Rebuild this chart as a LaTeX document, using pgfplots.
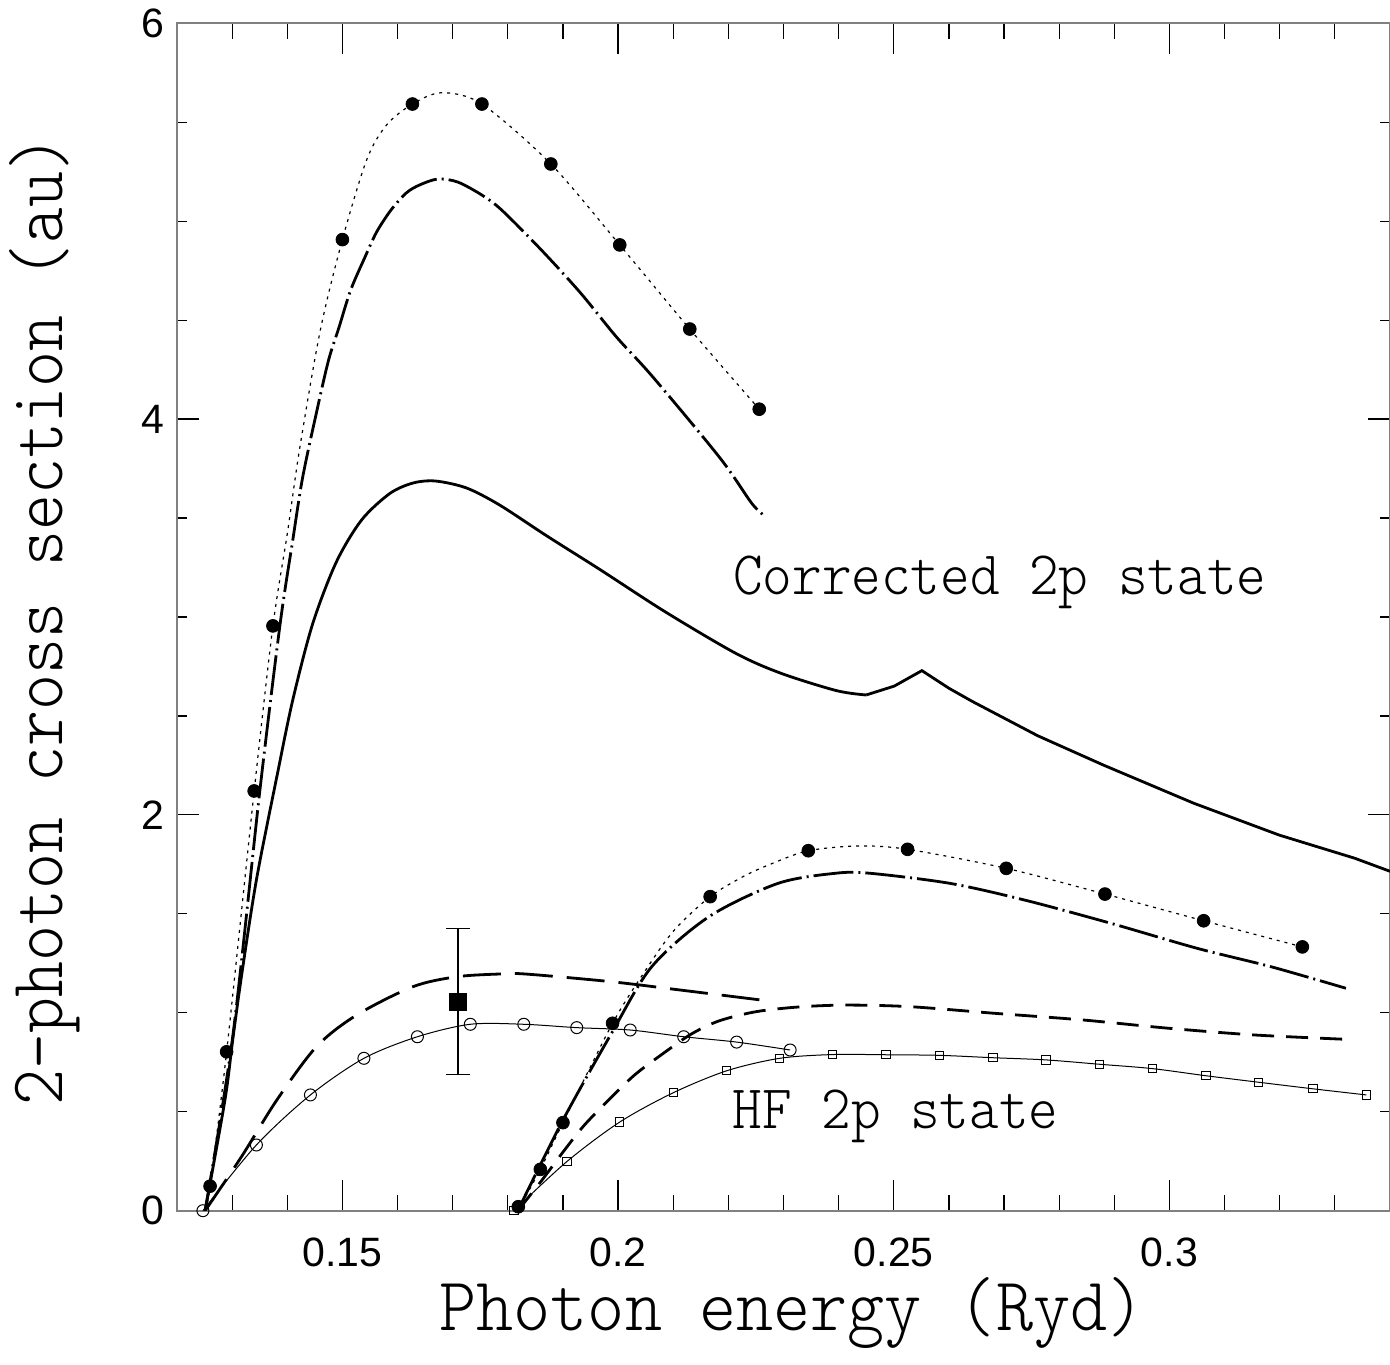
\documentclass[border=0pt]{standalone}
\usepackage{fontspec}
\usepackage{graphicx}
\usepackage{pgfplots}
\pgfplotsset{compat=1.18}
\newfontfamily\helv{Liberation Sans}
\newfontfamily\lmlt{lmmonolt10-regular}[Extension=.otf]
\newcommand{\lab}{\lmlt\fontsize{38bp}{40bp}\selectfont}
\newcommand{\txt}{\lmlt\fontsize{31bp}{33bp}\selectfont}

\begin{document}
\begin{tikzpicture}
\begin{axis}[
  at={(0,0)}, anchor=south west,
  scale only axis, width=606.5bp, height=593.7bp,
  xmin=0.12, xmax=0.34, ymin=0, ymax=6,
  xtick={0.15,0.2,0.25,0.3}, xticklabels={0.15,0.2,0.25,0.3},
  minor xtick={0.13,0.14,0.16,0.17,0.18,0.19,0.21,0.22,0.23,0.24,0.26,0.27,0.28,0.29,0.31,0.32,0.33},
  ytick={0,2,4,6}, yticklabels={0,2,4,6},
  minor ytick={0.5,1,1.5,2.5,3,3.5,4.5,5,5.5},
  tick align=inside, tick pos=both,
  major tick length=11bp, minor tick length=5.25bp,
  x tick style={/pgfplots/major tick length=15.5bp,/pgfplots/minor tick length=7.75bp},
  tick style={black, line width=0.6bp},
  axis line style={black!50, line width=1bp},
  tick label style={font=\helv\fontsize{20.5bp}{23bp}\selectfont},
  xticklabel style={yshift=-10bp},
  yticklabel style={xshift=-3bp},
  xlabel={\scalebox{0.93}[1]{Photon energy (Ryd)}},
  ylabel={\scalebox{0.9}[1]{2-photon cross section (au)}},
  xlabel style={font=\lab, at={(axis description cs:0.507,-0.1011)}, anchor=base},
  ylabel style={font=\lab, at={(axis description cs:-0.094,0.497)}, anchor=base},
]

% corrected 2p, upper group: dotted with dots
\addplot[black, line width=0.6bp, dash pattern=on 1.5bp off 2.5bp, smooth, tension=0.5] table {
0.1251 0
0.1260 0.124
0.1290 0.803
0.1340 2.121
0.1374 2.955
0.1400 3.42
0.1423 3.86
0.1460 4.45
0.1500 4.907
0.1544 5.31
0.1580 5.486
0.1627 5.592
0.1680 5.649
0.1753 5.592
0.1878 5.289
0.2003 4.880
0.2130 4.455
0.2256 4.050
};
\addplot[black, only marks, mark=*, mark size=3.2bp] table {
0.1260 0.124
0.1290 0.803
0.1340 2.121
0.1374 2.955
0.1500 4.907
0.1627 5.592
0.1753 5.592
0.1878 5.289
0.2003 4.880
0.2130 4.455
0.2256 4.050
};

% dash-dot
\addplot[black, line width=1.4bp, dash pattern=on 20bp off 2.5bp on 1bp off 2.5bp, smooth, tension=0.5] table {
0.1251 0
0.1301 0.878
0.1350 2.116
0.1387 2.964
0.1410 3.389
0.1428 3.707
0.1454 4.046
0.1475 4.299
0.1494 4.465
0.1515 4.652
0.1541 4.819
0.1562 4.945
0.1588 5.056
0.1616 5.143
0.1640 5.183
0.1673 5.213
0.1709 5.198
0.1753 5.132
0.1789 5.056
0.1861 4.854
0.1932 4.637
0.1997 4.415
0.2063 4.213
0.2185 3.803
0.2242 3.576
0.2264 3.515
};

% solid
\addplot[black, line width=1.4bp, smooth, tension=0.5] table {
0.1251 0
0.1287 0.56
0.1301 0.862
0.1317 1.186
0.1344 1.671
0.1381 2.192
0.1410 2.581
0.1446 2.965
0.1489 3.278
0.1535 3.491
0.1586 3.624
0.1628 3.677
0.1669 3.687
0.1725 3.652
0.1785 3.566
0.1870 3.411
0.1967 3.240
0.2085 3.027
0.2213 2.817
0.2295 2.716
0.2396 2.628
0.2450 2.606
};
\addplot[black, line width=1.4bp] table {
0.2450 2.606
0.2501 2.651
0.2551 2.729
0.2600 2.640
0.2642 2.574
0.2761 2.400
0.2880 2.252
0.3044 2.059
0.3199 1.898
0.3336 1.781
0.3400 1.715
};

% long dash
\addplot[black, line width=1.4bp, dash pattern=on 19bp off 7bp, smooth, tension=0.5] table {
0.1251 0
0.1317 0.273
0.1381 0.559
0.1453 0.829
0.1526 0.989
0.1628 1.132
0.1707 1.182
0.1785 1.196
0.1832 1.196
0.1988 1.157
0.2113 1.115
0.2258 1.065
};

% open circles
\addplot[black, line width=0.5bp, smooth, tension=0.5, mark=o, mark size=3bp] table {
0.1247 0
0.1344 0.332
0.1442 0.585
0.1539 0.770
0.1636 0.879
0.1732 0.942
0.1829 0.942
0.1925 0.925
0.2022 0.913
0.2119 0.879
0.2215 0.852
0.2312 0.812
};

% experiment
\addplot[black, only marks, mark=square*, mark size=4.2bp,
  error bars/.cd, y dir=both, y explicit, error mark=-,
  error bar style={line width=0.7bp},
  error mark options={rotate=90, black, mark size=6bp, line width=0.7bp}]
  coordinates {(0.1710,1.056) +- (0,0.369)};

% HF 2p group: dotted with dots
\addplot[black, line width=0.6bp, dash pattern=on 1.5bp off 2.5bp, smooth, tension=0.5] table {
0.1818 0
0.1859 0.209
0.1900 0.445
0.1990 0.947
0.2051 1.22
0.2102 1.418
0.2167 1.587
0.2228 1.690
0.2280 1.755
0.2345 1.819
0.2436 1.843
0.2525 1.826
0.2704 1.730
0.2883 1.600
0.3062 1.465
0.3241 1.333
};
\addplot[black, only marks, mark=*, mark size=3.2bp] table {
0.1819 0.020
0.1859 0.209
0.1900 0.445
0.1990 0.947
0.2167 1.587
0.2345 1.819
0.2525 1.826
0.2704 1.730
0.2883 1.600
0.3062 1.465
0.3241 1.333
};

% dash-dot
\addplot[black, line width=1.4bp, dash pattern=on 20bp off 2.5bp on 1bp off 2.5bp, smooth, tension=0.5] table {
0.1818 0
0.1900 0.458
0.1988 0.896
0.2061 1.233
0.2165 1.486
0.2290 1.654
0.2394 1.705
0.2457 1.705
0.2602 1.654
0.2737 1.570
0.2894 1.452
0.3050 1.326
0.3184 1.233
0.3320 1.124
};

% short dash
\addplot[black, line width=1.4bp, dash pattern=on 11bp off 6bp, smooth, tension=0.5] table {
0.1818 0
0.1858 0.14
0.1903 0.307
0.1939 0.433
0.1986 0.568
0.2030 0.686
0.2078 0.787
0.2133 0.893
0.2184 0.960
0.2251 1.006
0.2330 1.030
0.2415 1.039
0.2529 1.031
0.2685 0.997
0.2842 0.964
0.2998 0.922
0.3154 0.888
0.3320 0.866
};

% open squares
\addplot[black, line width=0.5bp, smooth, tension=0.5, mark=square, mark size=2.1bp] table {
0.1811 0
0.1907 0.248
0.2003 0.448
0.2100 0.596
0.2197 0.707
0.2293 0.770
0.2389 0.789
0.2486 0.788
0.2583 0.785
0.2680 0.773
0.2776 0.762
0.2873 0.740
0.2969 0.718
0.3066 0.682
0.3162 0.649
0.3260 0.616
0.3357 0.585
};

\node[anchor=base west, inner sep=0, font=\txt] at (axis cs:0.2208,3.116) {\scalebox{0.91}[1]{Corrected 2p state}};
\node[anchor=base west, inner sep=0, font=\txt] at (axis cs:0.2207,0.416) {\scalebox{0.91}[1]{HF 2p state}};
\end{axis}
\pgfresetboundingbox
\path[use as bounding box] (-88.5bp,-77.15bp) rectangle (606.5bp,605.35bp);
\end{tikzpicture}
\end{document}
